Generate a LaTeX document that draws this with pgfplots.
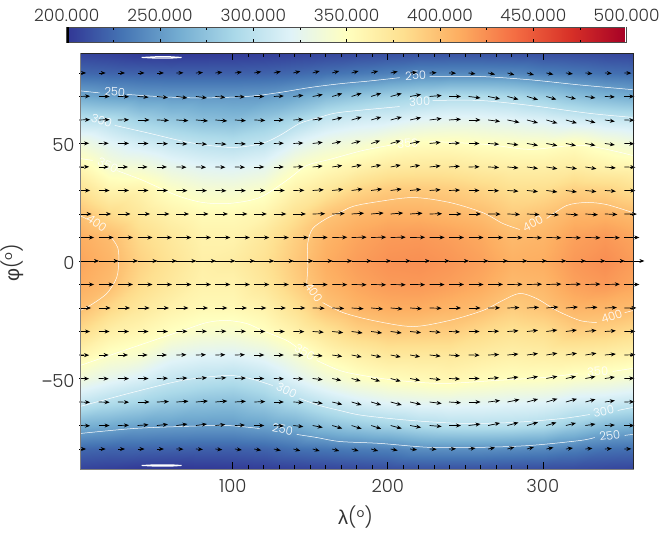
\documentclass[border=0pt]{standalone}
\usepackage{fontspec}
\setmainfont{Poppins Light}
\newfontfamily\greekfont{Liberation Sans}
\usepackage{pgfplots}
\pgfplotsset{compat=1.18}
\usepackage{pgfplotstable}
\usetikzlibrary{arrows.meta}
\definecolor{txt}{gray}{0.2}

% temperature map, one line per longitude
\pgfplotstableread[row sep=\\]{
lon lat T\\
1.5 88.5 206\\ 1.5 80 224\\ 1.5 70 258\\ 1.5 60 300\\ 1.5 50 335\\ 1.5 40 358\\ 1.5 30 378\\ 1.5 20 398\\ 1.5 10 410\\ 1.5 0 414\\ 1.5 -10 410\\ 1.5 -20 400\\ 1.5 -30 382\\ 1.5 -40 360\\ 1.5 -50 335\\ 1.5 -60 305\\ 1.5 -70 262\\ 1.5 -80 224\\ 1.5 -88.5 206\\
20 88.5 204\\ 20 80 222\\ 20 70 253\\ 20 60 297\\ 20 50 322\\ 20 40 341\\ 20 30 361\\ 20 20 383\\ 20 10 402\\ 20 0 406\\ 20 -10 402\\ 20 -20 385\\ 20 -30 365\\ 20 -40 347\\ 20 -50 325\\ 20 -60 295\\ 20 -70 258\\ 20 -80 222\\ 20 -88.5 204\\
40 88.5 201\\ 40 80 221\\ 40 70 250\\ 40 60 285\\ 40 50 312\\ 40 40 338\\ 40 30 362\\ 40 20 372\\ 40 10 383\\ 40 0 388\\ 40 -10 383\\ 40 -20 372\\ 40 -30 358\\ 40 -40 342\\ 40 -50 316\\ 40 -60 288\\ 40 -70 253\\ 40 -80 222\\ 40 -88.5 201\\
60 88.5 200\\ 60 80 220\\ 60 70 249\\ 60 60 278\\ 60 50 305\\ 60 40 328\\ 60 30 348\\ 60 20 362\\ 60 10 372\\ 60 0 376\\ 60 -10 372\\ 60 -20 362\\ 60 -30 349\\ 60 -40 326\\ 60 -50 304\\ 60 -60 280\\ 60 -70 251\\ 60 -80 221\\ 60 -88.5 200\\
80 88.5 201\\ 80 80 220\\ 80 70 249\\ 80 60 272\\ 80 50 299\\ 80 40 322\\ 80 30 341\\ 80 20 355\\ 80 10 362\\ 80 0 365\\ 80 -10 362\\ 80 -20 356\\ 80 -30 343\\ 80 -40 321\\ 80 -50 299\\ 80 -60 274\\ 80 -70 250\\ 80 -80 220\\ 80 -88.5 201\\
100 88.5 202\\ 100 80 220\\ 100 70 249\\ 100 60 270\\ 100 50 296\\ 100 40 320\\ 100 30 340\\ 100 20 355\\ 100 10 362\\ 100 0 368\\ 100 -10 362\\ 100 -20 356\\ 100 -30 342\\ 100 -40 320\\ 100 -50 296\\ 100 -60 272\\ 100 -70 250\\ 100 -80 220\\ 100 -88.5 202\\
120 88.5 203\\ 120 80 221\\ 120 70 250\\ 120 60 278\\ 120 50 302\\ 120 40 325\\ 120 30 345\\ 120 20 360\\ 120 10 373\\ 120 0 378\\ 120 -10 373\\ 120 -20 362\\ 120 -30 349\\ 120 -40 326\\ 120 -50 303\\ 120 -60 280\\ 120 -70 254\\ 120 -80 222\\ 120 -88.5 203\\
140 88.5 205\\ 140 80 224\\ 140 70 256\\ 140 60 290\\ 140 50 320\\ 140 40 345\\ 140 30 362\\ 140 20 378\\ 140 10 390\\ 140 0 394\\ 140 -10 390\\ 140 -20 378\\ 140 -30 362\\ 140 -40 340\\ 140 -50 320\\ 140 -60 292\\ 140 -70 260\\ 140 -80 228\\ 140 -88.5 205\\
160 88.5 207\\ 160 80 228\\ 160 70 268\\ 160 60 305\\ 160 50 332\\ 160 40 354\\ 160 30 373\\ 160 20 396\\ 160 10 406\\ 160 0 410\\ 160 -10 406\\ 160 -20 397\\ 160 -30 376\\ 160 -40 356\\ 160 -50 335\\ 160 -60 305\\ 160 -70 272\\ 160 -80 231\\ 160 -88.5 207\\
180 88.5 209\\ 180 80 232\\ 180 70 276\\ 180 60 312\\ 180 50 338\\ 180 40 362\\ 180 30 386\\ 180 20 404\\ 180 10 414\\ 180 0 418\\ 180 -10 414\\ 180 -20 406\\ 180 -30 388\\ 180 -40 365\\ 180 -50 346\\ 180 -60 315\\ 180 -70 279\\ 180 -80 234\\ 180 -88.5 209\\
200 88.5 211\\ 200 80 236\\ 200 70 283\\ 200 60 315\\ 200 50 346\\ 200 40 370\\ 200 30 393\\ 200 20 408\\ 200 10 419\\ 200 0 423\\ 200 -10 419\\ 200 -20 410\\ 200 -30 393\\ 200 -40 372\\ 200 -50 352\\ 200 -60 322\\ 200 -70 285\\ 200 -80 236\\ 200 -88.5 211\\
220 88.5 213\\ 220 80 240\\ 220 70 288\\ 220 60 322\\ 220 50 351\\ 220 40 372\\ 220 30 394\\ 220 20 408\\ 220 10 420\\ 220 0 424\\ 220 -10 420\\ 220 -20 410\\ 220 -30 392\\ 220 -40 372\\ 220 -50 355\\ 220 -60 325\\ 220 -70 292\\ 220 -80 243\\ 220 -88.5 213\\
240 88.5 213\\ 240 80 241\\ 240 70 293\\ 240 60 325\\ 240 50 352\\ 240 40 372\\ 240 30 392\\ 240 20 405\\ 240 10 417\\ 240 0 421\\ 240 -10 417\\ 240 -20 406\\ 240 -30 391\\ 240 -40 372\\ 240 -50 358\\ 240 -60 326\\ 240 -70 296\\ 240 -80 244\\ 240 -88.5 213\\
260 88.5 213\\ 260 80 241\\ 260 70 293\\ 260 60 325\\ 260 50 349\\ 260 40 368\\ 260 30 387\\ 260 20 401\\ 260 10 412\\ 260 0 416\\ 260 -10 412\\ 260 -20 401\\ 260 -30 383\\ 260 -40 368\\ 260 -50 353\\ 260 -60 325\\ 260 -70 297\\ 260 -80 244\\ 260 -88.5 213\\
280 88.5 212\\ 280 80 240\\ 280 70 290\\ 280 60 322\\ 280 50 347\\ 280 40 365\\ 280 30 380\\ 280 20 392\\ 280 10 403\\ 280 0 408\\ 280 -10 403\\ 280 -20 392\\ 280 -30 377\\ 280 -40 364\\ 280 -50 350\\ 280 -60 322\\ 280 -70 296\\ 280 -80 242\\ 280 -88.5 212\\
300 88.5 211\\ 300 80 235\\ 300 70 282\\ 300 60 318\\ 300 50 346\\ 300 40 365\\ 300 30 381\\ 300 20 397\\ 300 10 406\\ 300 0 410\\ 300 -10 405\\ 300 -20 397\\ 300 -30 380\\ 300 -40 366\\ 300 -50 349\\ 300 -60 320\\ 300 -70 292\\ 300 -80 240\\ 300 -88.5 211\\
320 88.5 210\\ 320 80 232\\ 320 70 272\\ 320 60 312\\ 320 50 351\\ 320 40 368\\ 320 30 390\\ 320 20 406\\ 320 10 416\\ 320 0 420\\ 320 -10 416\\ 320 -20 406\\ 320 -30 390\\ 320 -40 367\\ 320 -50 345\\ 320 -60 312\\ 320 -70 280\\ 320 -80 235\\ 320 -88.5 210\\
340 88.5 208\\ 340 80 228\\ 340 70 265\\ 340 60 308\\ 340 50 342\\ 340 40 362\\ 340 30 388\\ 340 20 407\\ 340 10 420\\ 340 0 425\\ 340 -10 420\\ 340 -20 405\\ 340 -30 388\\ 340 -40 365\\ 340 -50 342\\ 340 -60 310\\ 340 -70 268\\ 340 -80 229\\ 340 -88.5 208\\
358.5 88.5 207\\ 358.5 80 226\\ 358.5 70 260\\ 358.5 60 305\\ 358.5 50 335\\ 358.5 40 360\\ 358.5 30 380\\ 358.5 20 402\\ 358.5 10 414\\ 358.5 0 418\\ 358.5 -10 414\\ 358.5 -20 402\\ 358.5 -30 382\\ 358.5 -40 361\\ 358.5 -50 337\\ 358.5 -60 305\\ 358.5 -70 263\\ 358.5 -80 227\\ 358.5 -88.5 207\\
}\tempmap

% wind arrows: tail position, then u and v in picture lengths
\pgfplotstableread[row sep=\\]{
lon lat u v\\
0.9 80 7 0\\ 13.5 80 7 0\\ 26 80 7 0\\ 38.6 80 7 0\\ 51.1 80 7 0\\ 63.7 80 7 0.2\\ 76.3 80 7 0.5\\ 88.8 80 7 0.8\\ 101.4 80 7 1\\ 113.9 80 7 1.3\\ 126.5 80 7 1.5\\ 139.1 80 7 1.8\\ 151.6 80 7 2\\ 164.2 80 7 2\\ 176.7 80 7 2\\ 189.3 80 7 2\\ 201.9 80 7 1.5\\ 214.4 80 7 0.8\\ 227 80 7 0.3\\ 239.5 80 7 -0.3\\ 252.1 80 7 -1\\ 264.7 80 7 -1.5\\ 277.2 80 7 -2\\ 289.8 80 7 -2\\ 302.3 80 7 -1.5\\ 314.9 80 7 -1\\ 327.5 80 7 -0.8\\ 340 80 7 -0.5\\ 352.6 80 7 -0.2\\
0.9 70 11 0.3\\ 13.5 70 11 0\\ 26 70 11 -0.3\\ 38.6 70 11 -0.8\\ 51.1 70 11 -1.2\\ 63.7 70 11 -1.5\\ 76.3 70 11 -1.5\\ 88.8 70 10 -1\\ 101.4 70 10 -0.5\\ 113.9 70 10 0\\ 126.5 70 10 0.5\\ 139.1 70 10 1.2\\ 151.6 70 10 2\\ 164.2 70 10 3\\ 176.7 70 10 3.3\\ 189.3 70 10 3.3\\ 201.9 70 11 3\\ 214.4 70 11 2\\ 227 70 12 1\\ 239.5 70 12 0\\ 252.1 70 12 -1.5\\ 264.7 70 12 -2.5\\ 277.2 70 11 -3\\ 289.8 70 11 -3.3\\ 302.3 70 10 -3\\ 314.9 70 10 -2.5\\ 327.5 70 10 -1.5\\ 340 70 10 -0.5\\ 352.6 70 10 0\\
0.9 60 11 0.3\\ 13.5 60 11 0.3\\ 26 60 11 0.2\\ 38.6 60 12 0\\ 51.1 60 12 -0.5\\ 63.7 60 12 -0.8\\ 76.3 60 12 -1\\ 88.8 60 12 -1\\ 101.4 60 11 -0.8\\ 113.9 60 11 -0.5\\ 126.5 60 10 0\\ 139.1 60 10 0.5\\ 151.6 60 10 1.5\\ 164.2 60 10 2.5\\ 176.7 60 10 3\\ 189.3 60 10 3\\ 201.9 60 11 3\\ 214.4 60 11 2.5\\ 227 60 12 1.5\\ 239.5 60 12 0.8\\ 252.1 60 12 0\\ 264.7 60 12 -1.5\\ 277.2 60 12 -2.5\\ 289.8 60 11 -3\\ 302.3 60 11 -3.3\\ 314.9 60 11 -3.2\\ 327.5 60 10 -2.8\\ 340 60 10 -1.5\\ 352.6 60 10 -0.3\\
0.9 50 10 0.2\\ 13.5 50 10 0.2\\ 26 50 11 0.1\\ 38.6 50 11 0\\ 51.1 50 11 -0.3\\ 63.7 50 11 -0.5\\ 76.3 50 11 -0.8\\ 88.8 50 11 -0.8\\ 101.4 50 11 -0.5\\ 113.9 50 10 0\\ 126.5 50 10 0.3\\ 139.1 50 10 0.5\\ 151.6 50 10 1.2\\ 164.2 50 9 2\\ 176.7 50 9 2.5\\ 189.3 50 9 2.8\\ 201.9 50 10 2.8\\ 214.4 50 10 2\\ 227 50 11 1.2\\ 239.5 50 11 0.5\\ 252.1 50 11 0\\ 264.7 50 11 -0.8\\ 277.2 50 11 -1.5\\ 289.8 50 11 -2\\ 302.3 50 11 -2.2\\ 314.9 50 10 -2.2\\ 327.5 50 10 -2\\ 340 50 10 -1.5\\ 352.6 50 10 -0.3\\
0.9 40 10 0.2\\ 13.5 40 10 0\\ 26 40 10 0\\ 38.6 40 10 0\\ 51.1 40 10 0\\ 63.7 40 10 -0.3\\ 76.3 40 10 -0.3\\ 88.8 40 10 -0.3\\ 101.4 40 10 -0.3\\ 113.9 40 10 0\\ 126.5 40 10 0\\ 139.1 40 10 0.3\\ 151.6 40 10 1\\ 164.2 40 10 1.5\\ 176.7 40 10 2\\ 189.3 40 10 2\\ 201.9 40 10 2\\ 214.4 40 10 1.8\\ 227 40 11 1.2\\ 239.5 40 11 0.8\\ 252.1 40 11 0.2\\ 264.7 40 11 -0.5\\ 277.2 40 11 -1\\ 289.8 40 11 -1.5\\ 302.3 40 11 -1.8\\ 314.9 40 11 -1.8\\ 327.5 40 11 -1.8\\ 340 40 11 -1\\ 352.6 40 11 -0.3\\
0.9 30 11 0\\ 13.5 30 11 0\\ 26 30 11 0\\ 38.6 30 11 0\\ 51.1 30 11 0\\ 63.7 30 11 -0.2\\ 76.3 30 11 -0.2\\ 88.8 30 11 -0.3\\ 101.4 30 11 -0.2\\ 113.9 30 11 0\\ 126.5 30 11 0\\ 139.1 30 11 0.2\\ 151.6 30 11 0.8\\ 164.2 30 11 1.2\\ 176.7 30 11 1.5\\ 189.3 30 11 1.5\\ 201.9 30 11 1.5\\ 214.4 30 11 1.2\\ 227 30 11 0.8\\ 239.5 30 11 0.4\\ 252.1 30 11 0\\ 264.7 30 11 -0.3\\ 277.2 30 11 -0.8\\ 289.8 30 11 -1.2\\ 302.3 30 11 -1.5\\ 314.9 30 11 -1.5\\ 327.5 30 11 -1.2\\ 340 30 11 -0.8\\ 352.6 30 11 -0.2\\
0.9 20 12.5 0\\ 13.5 20 12.5 0\\ 26 20 12.5 0\\ 38.6 20 12.5 0\\ 51.1 20 12.5 0\\ 63.7 20 12.5 0\\ 76.3 20 12.5 0\\ 88.8 20 12.5 0\\ 101.4 20 12.5 0\\ 113.9 20 12.5 0\\ 126.5 20 12.5 0\\ 139.1 20 12.5 0\\ 151.6 20 12.5 0.3\\ 164.2 20 12.5 0.5\\ 176.7 20 12.5 0.8\\ 189.3 20 12.5 1\\ 201.9 20 12.5 1\\ 214.4 20 12.5 0.8\\ 227 20 12.5 0.3\\ 239.5 20 12.5 0\\ 252.1 20 12.5 0\\ 264.7 20 12.5 -0.2\\ 277.2 20 12.5 -0.5\\ 289.8 20 12.5 -0.7\\ 302.3 20 12.5 -1\\ 314.9 20 12.5 -1\\ 327.5 20 12.5 -0.8\\ 340 20 12.5 -0.5\\ 352.6 20 12.5 -0.1\\
0.9 10 15 0\\ 13.5 10 15 0\\ 26 10 15 0\\ 38.6 10 15 0\\ 51.1 10 15 0\\ 63.7 10 15 0\\ 76.3 10 15 0\\ 88.8 10 15 0\\ 101.4 10 15 0\\ 113.9 10 15 0\\ 126.5 10 15 0\\ 139.1 10 15 0\\ 151.6 10 15 0.1\\ 164.2 10 15 0.2\\ 176.7 10 15 0.3\\ 189.3 10 15 0.3\\ 201.9 10 15 0.3\\ 214.4 10 15 0.2\\ 227 10 15 0.1\\ 239.5 10 15 0\\ 252.1 10 15 0\\ 264.7 10 15 -0.1\\ 277.2 10 15 -0.2\\ 289.8 10 15 -0.3\\ 302.3 10 15 -0.3\\ 314.9 10 15 -0.3\\ 327.5 10 15 -0.3\\ 340 10 15 -0.2\\ 352.6 10 15 0\\
0.9 0 20 0\\ 13.5 0 20 0\\ 26 0 20 0\\ 38.6 0 20 0\\ 51.1 0 20 0\\ 63.7 0 20 0\\ 76.3 0 20 0\\ 88.8 0 20 0\\ 101.4 0 20 0\\ 113.9 0 20 0\\ 126.5 0 20 0\\ 139.1 0 20 0\\ 151.6 0 20 0\\ 164.2 0 20 0\\ 176.7 0 20 0\\ 189.3 0 20 0\\ 201.9 0 20 0\\ 214.4 0 20 0\\ 227 0 20 0\\ 239.5 0 20 0\\ 252.1 0 20 0\\ 264.7 0 20 0\\ 277.2 0 20 0\\ 289.8 0 20 0\\ 302.3 0 20 0\\ 314.9 0 20 0\\ 327.5 0 20 0\\ 340 0 20 0\\ 352.6 0 20 0\\
0.9 -10 15 0\\ 13.5 -10 15 0\\ 26 -10 15 0\\ 38.6 -10 15 0\\ 51.1 -10 15 0\\ 63.7 -10 15 0\\ 76.3 -10 15 0\\ 88.8 -10 15 0\\ 101.4 -10 15 0\\ 113.9 -10 15 0\\ 126.5 -10 15 0\\ 139.1 -10 15 0\\ 151.6 -10 15 -0.1\\ 164.2 -10 15 -0.2\\ 176.7 -10 15 -0.3\\ 189.3 -10 15 -0.3\\ 201.9 -10 15 -0.3\\ 214.4 -10 15 -0.2\\ 227 -10 15 -0.1\\ 239.5 -10 15 0\\ 252.1 -10 15 0\\ 264.7 -10 15 0.1\\ 277.2 -10 15 0.2\\ 289.8 -10 15 0.3\\ 302.3 -10 15 0.4\\ 314.9 -10 15 0.4\\ 327.5 -10 15 0.4\\ 340 -10 15 0.3\\ 352.6 -10 15 0\\
0.9 -20 12 0\\ 13.5 -20 12 0\\ 26 -20 12 0\\ 38.6 -20 12 0\\ 51.1 -20 12 0\\ 63.7 -20 12 0\\ 76.3 -20 12 0\\ 88.8 -20 12 0\\ 101.4 -20 12 0\\ 113.9 -20 12 0\\ 126.5 -20 12 0\\ 139.1 -20 12 0\\ 151.6 -20 12 -0.3\\ 164.2 -20 12 -0.5\\ 176.7 -20 12 -0.8\\ 189.3 -20 12 -1\\ 201.9 -20 12 -1\\ 214.4 -20 12 -0.8\\ 227 -20 12 -0.3\\ 239.5 -20 12 0\\ 252.1 -20 12 0\\ 264.7 -20 12 0.2\\ 277.2 -20 12 0.5\\ 289.8 -20 12 0.7\\ 302.3 -20 12 1\\ 314.9 -20 12 1\\ 327.5 -20 12 0.8\\ 340 -20 12 0.5\\ 352.6 -20 12 0.1\\
0.9 -30 11 0\\ 13.5 -30 11 0\\ 26 -30 11 0\\ 38.6 -30 11 0\\ 51.1 -30 11 0\\ 63.7 -30 11 0.2\\ 76.3 -30 11 0.2\\ 88.8 -30 11 0.3\\ 101.4 -30 11 0.2\\ 113.9 -30 11 0\\ 126.5 -30 11 0\\ 139.1 -30 11 -0.2\\ 151.6 -30 11 -0.8\\ 164.2 -30 11 -1.2\\ 176.7 -30 11 -1.5\\ 189.3 -30 11 -1.5\\ 201.9 -30 11 -1.5\\ 214.4 -30 11 -1.2\\ 227 -30 11 -0.8\\ 239.5 -30 11 -0.4\\ 252.1 -30 11 0\\ 264.7 -30 11 0.3\\ 277.2 -30 11 0.8\\ 289.8 -30 11 1.2\\ 302.3 -30 11 1.5\\ 314.9 -30 11 1.5\\ 327.5 -30 11 1.2\\ 340 -30 11 0.8\\ 352.6 -30 11 0.2\\
0.9 -40 10 -0.2\\ 13.5 -40 10 0\\ 26 -40 10 0\\ 38.6 -40 10 0\\ 51.1 -40 10 0\\ 63.7 -40 10 0.3\\ 76.3 -40 10 0.3\\ 88.8 -40 10 0.3\\ 101.4 -40 10 0.3\\ 113.9 -40 10 0\\ 126.5 -40 10 0\\ 139.1 -40 10 -0.3\\ 151.6 -40 10 -1\\ 164.2 -40 10 -1.5\\ 176.7 -40 10 -2\\ 189.3 -40 10 -2\\ 201.9 -40 10 -2\\ 214.4 -40 10 -1.8\\ 227 -40 11 -1.2\\ 239.5 -40 11 -0.8\\ 252.1 -40 11 -0.2\\ 264.7 -40 11 0.5\\ 277.2 -40 11 1\\ 289.8 -40 11 1.5\\ 302.3 -40 11 1.8\\ 314.9 -40 11 1.8\\ 327.5 -40 11 1.8\\ 340 -40 11 1\\ 352.6 -40 11 0.3\\
0.9 -50 10 -0.2\\ 13.5 -50 10 -0.2\\ 26 -50 11 -0.1\\ 38.6 -50 11 0\\ 51.1 -50 11 0.3\\ 63.7 -50 11 0.5\\ 76.3 -50 11 0.8\\ 88.8 -50 11 0.8\\ 101.4 -50 11 0.5\\ 113.9 -50 10 0\\ 126.5 -50 10 -0.3\\ 139.1 -50 10 -0.5\\ 151.6 -50 10 -1.2\\ 164.2 -50 9 -2\\ 176.7 -50 9 -2.5\\ 189.3 -50 9 -2.8\\ 201.9 -50 10 -2.8\\ 214.4 -50 10 -2\\ 227 -50 11 -1.2\\ 239.5 -50 11 -0.5\\ 252.1 -50 11 0\\ 264.7 -50 11 0.8\\ 277.2 -50 11 1.5\\ 289.8 -50 11 2\\ 302.3 -50 11 2.2\\ 314.9 -50 10 2.2\\ 327.5 -50 10 2\\ 340 -50 10 1.5\\ 352.6 -50 10 0.3\\
0.9 -60 11 -0.3\\ 13.5 -60 11 -0.3\\ 26 -60 11 -0.2\\ 38.6 -60 12 0\\ 51.1 -60 12 0.5\\ 63.7 -60 12 0.8\\ 76.3 -60 12 1\\ 88.8 -60 12 1\\ 101.4 -60 11 0.8\\ 113.9 -60 11 0.5\\ 126.5 -60 10 0\\ 139.1 -60 10 -0.5\\ 151.6 -60 10 -1.5\\ 164.2 -60 10 -2.5\\ 176.7 -60 10 -3\\ 189.3 -60 10 -3\\ 201.9 -60 11 -3\\ 214.4 -60 11 -2.5\\ 227 -60 12 -1.5\\ 239.5 -60 12 -0.8\\ 252.1 -60 12 0\\ 264.7 -60 12 1.5\\ 277.2 -60 12 2.5\\ 289.8 -60 11 3\\ 302.3 -60 11 3.3\\ 314.9 -60 11 3.2\\ 327.5 -60 10 2.8\\ 340 -60 10 1.5\\ 352.6 -60 10 0.3\\
0.9 -70 11 -0.3\\ 13.5 -70 11 0\\ 26 -70 11 0.3\\ 38.6 -70 11 0.8\\ 51.1 -70 11 1.2\\ 63.7 -70 11 1.5\\ 76.3 -70 11 1.5\\ 88.8 -70 10 1\\ 101.4 -70 10 0.5\\ 113.9 -70 10 0\\ 126.5 -70 10 -0.5\\ 139.1 -70 10 -1.2\\ 151.6 -70 10 -2\\ 164.2 -70 10 -3\\ 176.7 -70 10 -3.3\\ 189.3 -70 10 -3.3\\ 201.9 -70 11 -3\\ 214.4 -70 11 -2\\ 227 -70 12 -1\\ 239.5 -70 12 0\\ 252.1 -70 12 1.5\\ 264.7 -70 12 2.5\\ 277.2 -70 11 3\\ 289.8 -70 11 3.3\\ 302.3 -70 10 3\\ 314.9 -70 10 2.5\\ 327.5 -70 10 1.5\\ 340 -70 10 0.5\\ 352.6 -70 10 0\\
0.9 -80 7 0\\ 13.5 -80 7 0\\ 26 -80 7 0\\ 38.6 -80 7 0\\ 51.1 -80 7 0\\ 63.7 -80 7 -0.2\\ 76.3 -80 7 -0.5\\ 88.8 -80 7 -0.8\\ 101.4 -80 7 -1\\ 113.9 -80 7 -1.3\\ 126.5 -80 7 -1.5\\ 139.1 -80 7 -1.8\\ 151.6 -80 7 -2\\ 164.2 -80 7 -2\\ 176.7 -80 7 -2\\ 189.3 -80 7 -2\\ 201.9 -80 7 -1.5\\ 214.4 -80 7 -0.8\\ 227 -80 7 -0.3\\ 239.5 -80 7 0.3\\ 252.1 -80 7 1\\ 264.7 -80 7 1.5\\ 277.2 -80 7 2\\ 289.8 -80 7 2\\ 302.3 -80 7 1.5\\ 314.9 -80 7 1\\ 327.5 -80 7 0.8\\ 340 -80 7 0.5\\ 352.6 -80 7 0.2\\
}\windtab

\pgfplotsset{cline/.style={white, line width=0.5pt, smooth, tension=0.5}}

\begin{document}
\begin{tikzpicture}[x=1pt,y=1pt]
\path[use as bounding box] (0,0) rectangle (667,534);
\begin{axis}[
  at={(80pt,65pt)}, anchor=south west,
  scale only axis, width=553.5pt, height=416pt,
  xmin=1.5, xmax=358.5, ymin=-88.5, ymax=88.5,
  clip=false,
  axis on top,
  colormap={rdylbu}{rgb255=(49,54,149) rgb255=(69,117,180) rgb255=(116,173,209) rgb255=(171,217,233) rgb255=(224,243,248) rgb255=(255,255,191) rgb255=(254,224,144) rgb255=(253,174,97) rgb255=(244,109,67) rgb255=(215,48,39) rgb255=(165,0,38)},
  point meta min=200, point meta max=500,
  xtick={100,200,300}, ytick={-50,0,50},
  yticklabels={{\greekfont −}50,0,50},
  minor x tick num=9, minor y tick num=4,
  tick align=inside,
  major tick length=7pt, minor tick length=4pt,
  tick style={black, line width=0.6pt},
  axis line style={black!85, line width=0.8pt},
  tick label style={font=\fontsize{18}{18}\selectfont, text=txt},
  x tick label style={yshift=-7pt},
  y tick label style={xshift=-2pt, yshift=-2pt},
  /pgf/number format/assume math mode=true,
  xtick pos=both, ytick pos=both,
  xticklabel pos=lower, yticklabel pos=left,
  xlabel={{\greekfont λ}(°)}, ylabel={{\greekfont φ}(°)},
  every axis x label/.style={at={(axis description cs:0.4977,-0.115)}, anchor=center,
    font=\fontsize{20}{20}\selectfont, text=txt},
  every axis y label/.style={at={(axis description cs:-0.1229,0.495)}, rotate=90, anchor=center,
    font=\fontsize{20}{20}\selectfont, text=txt},
  colorbar horizontal,
  colorbar style={
    scale only axis, width=560pt, height=15.6pt,
    at={(-0.02403,1.025)}, anchor=south west,
    xtick={200,250,...,500}, minor x tick num=1,
    xticklabel pos=upper, xtick pos=both, xlabel={},
    tick align=inside, major tick length=4pt, minor tick length=3pt,
    x tick label style={yshift=2pt},
    xticklabel style={font=\fontsize{17}{17}\selectfont, text=txt,
      /pgf/number format/.cd, fixed, fixed zerofill, precision=3, assume math mode=true},
    axis line style={black!70, line width=0.8pt},
  },
]
\addplot[surf, shader=interp, mesh/rows=19, mesh/cols=19, point meta=explicit] table[x=lon, y=lat, meta=T] {\tempmap};

% contours
\addplot[cline] coordinates {(1.5,72.4)(14.2,71.5)};
\addplot[cline] coordinates {(31.6,70.9)(56.1,69.8)(81.9,69.4)(111,70.1)(130.3,71.7)(149.7,73.8)(169,75.4)(188.4,76.6)(207.7,78)};
\addplot[cline] coordinates {(227,78.5)(259.3,78.5)(291.6,77.1)(323.8,74.9)(358,72.9)};
\addplot[cline] coordinates {(23.9,57.7)(46.5,54.3)(72.2,50.4)(99.3,48.3)(118.7,50)(130.3,53.4)(143.2,58.5)(156.1,61.1)(169,63.2)(207.7,65.7)};
\addplot[cline] coordinates {(229,68.3)(259.3,68.3)(291.6,66.2)(330.3,62.8)(358,61.1)};
\addplot[cline] coordinates {(1.5,43.6)(9.7,42.8)};
\addplot[cline] coordinates {(25.2,38.5)(42,34.3)(63.9,27.9)(80.6,24.9)(98,24.5)(117.4,27)(134.8,34.3)(147.7,40.6)(162.5,43.2)(183.8,47)(204.5,49.6)};
\addplot[cline] coordinates {(227,50.9)(263.8,49.6)(291.6,47.5)(325.7,49.2)(358,44.9)};
\addplot[cline] coordinates {(1.5,19.3)(6.5,17.7)};
\addplot[cline] coordinates {(20.7,10.9)(25.8,5.8)(26.5,0.2)(25.2,-7)(18.8,-13.8)(7.8,-19)(1.5,-21.1)};
\addplot[cline] coordinates {(358,20.6)(341.2,24)(328.3,24.9)(315.4,23.6)(302.5,18.1)};
\addplot[cline] coordinates {(285.1,13.4)(274.1,16)(261.2,20.6)(239.9,24.9)(216,27)(190.3,24.9)(177.4,23.2)(169,20.6)(160.6,18.1)(151.6,13.8)(148.4,7.5)(148.4,-2.8)(147.7,-9.6)};
\addplot[cline] coordinates {(158,-17.7)(170.9,-21.9)(190.3,-25.3)(216,-27.9)(239.9,-25.3)(261.2,-21.1)(274.1,-16.8)(285.1,-13.8)(296.1,-16)(309,-21.1)(323.8,-25.3)(334.8,-26.2)};
\addplot[cline] coordinates {(352.8,-22)(358,-21.1)};
\addplot[cline] coordinates {(1.5,-44.5)(35.5,-36.8)(67.7,-29.6)(83.2,-26.2)(96.1,-25.3)(109,-26.6)(119.3,-29.6)(134.8,-33.8)(141.3,-36.8)};
\addplot[cline] coordinates {(154.2,-42.3)(169,-46.6)(183.8,-48.7)(205.8,-50.8)(235.4,-52.1)(270.3,-50.8)(300,-49.6)(322.5,-47.9)};
\addplot[cline] coordinates {(345,-47)(358,-45.7)};
\addplot[cline] coordinates {(1.5,-61.9)(35.5,-55.9)(67.7,-50.8)(96.1,-48.7)(111,-50)(125.8,-53)};
\addplot[cline] coordinates {(143.2,-58.5)(156.1,-61.5)(169,-63.6)(183.8,-65.7)(216,-67.9)(248.3,-69.1)(280.6,-68.7)(312.8,-67)(330.3,-65.3)};
\addplot[cline] coordinates {(348.3,-63.6)(358,-62.3)};
\addplot[cline] coordinates {(1.5,-73.4)(35.5,-71.3)(67.7,-70.4)(96.1,-70)(117.4,-71.3)};
\addplot[cline] coordinates {(141.3,-73.8)(154.2,-75.1)(169,-76.8)(194.8,-77.6)(227,-79.3)(259.3,-79.3)(291.6,-78.5)(323.8,-76.4)(333.5,-75.1)};
\addplot[cline] coordinates {(352.8,-74.2)(358,-73.8)};
\addplot[white, line width=1pt] coordinates {(41.3,86.6)(50,86.9)(60,86.9)(67.1,86.6)(60,86.3)(50,86.3)(41.3,86.6)};
\addplot[white, line width=1pt] coordinates {(41.3,-87)(50,-86.7)(60,-86.7)(67.1,-87)(60,-87.3)(50,-87.3)(41.3,-87)};

% contour labels
\begin{scope}[every node/.style={text=white, font=\fontsize{11.5}{12}\selectfont, inner sep=0pt}]
\node[rotate=-5] at (axis cs:23.9,71.9) {250};
\node[rotate=-18] at (axis cs:15.5,59.8) {300};
\node[rotate=-25] at (axis cs:19.4,40.6) {350};
\node[rotate=-35] at (axis cs:12.3,16) {400};
\node[rotate=-55] at (axis cs:152.2,-13.4) {400};
\node[rotate=28] at (axis cs:293.5,16) {400};
\node[rotate=18] at (axis cs:344.4,-23.6) {400};
\node[rotate=3] at (axis cs:212.9,50) {350};
\node[rotate=2] at (axis cs:218,78.9) {250};
\node[rotate=3] at (axis cs:220.6,67.9) {300};
\node[rotate=-32] at (axis cs:146.4,-38.9) {350};
\node[rotate=-27] at (axis cs:134.8,-55.1) {300};
\node[rotate=-10] at (axis cs:132.2,-71.7) {250};
\node[rotate=3] at (axis cs:335.4,-47) {350};
\node[rotate=12] at (axis cs:339.3,-64) {300};
\node[rotate=8] at (axis cs:343.2,-74.2) {250};
\end{scope}

% wind
\addplot[black, line width=0.7pt, -{Stealth[length=5pt,width=4pt]},
  quiver={u=\thisrow{u}/1.55, v=\thisrow{v}/2.35}]
  table[x=lon, y=lat] {\windtab};
\end{axis}
\draw[gray, line width=0.8pt] (80,481) -- (80,65) -- (633.5,65);
\fill[black] (66.7,491.4) rectangle ++(2,15.6);
\fill[white] (624.7,491.9) rectangle ++(1.5,14.6);
\end{tikzpicture}
\end{document}
